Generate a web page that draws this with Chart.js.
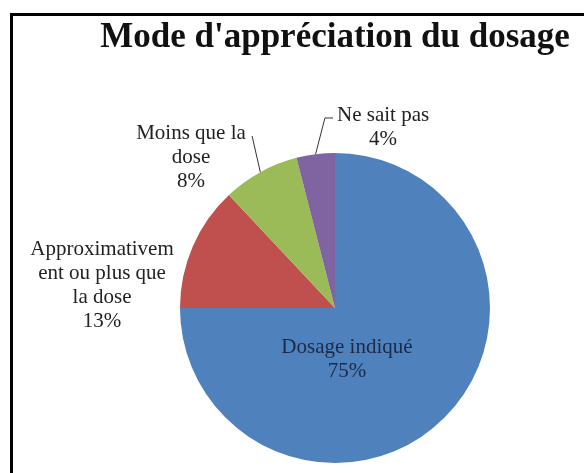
<!DOCTYPE html>
<html>
<head>
<meta charset="utf-8">
<script src="https://cdn.jsdelivr.net/npm/chart.js@4/dist/chart.umd.min.js"></script>
<style>
  html, body { margin: 0; padding: 0; background: #fff; overflow: hidden; }
  #frame { position: absolute; left: 10px; top: 13px; width: 640px; height: 520px;
           border-left: 3px solid #000; border-top: 3px solid #000; }
  #wrap { position: absolute; left: 0; top: 0; width: 584px; height: 473px; }
</style>
</head>
<body>
<div id="frame"></div>
<div id="wrap"><canvas id="chart" width="584" height="473"></canvas></div>
<script>
// Data
const categories = ['Dosage indiqué', 'Approximativement ou plus que la dose', 'Moins que la dose', 'Ne sait pas'];
const values = [75, 13, 8, 4];
// label text as wrapped in the original
const labelLines = [
  ['Dosage indiqué'],
  ['Approximativem', 'ent ou plus que', 'la dose'],
  ['Moins que la', 'dose'],
  ['Ne sait pas']
];
const colors = ['#4F81BD', '#C0504D', '#9BBB59', '#8064A2'];

// label placement, in units of the pie radius from the pie centre
const labelLayout = [
  { dx: 0.077, dy: 0.332, color: '#1c2a48' },
  { dx: -1.503, dy: -0.145, color: '#222' },
  { dx: -0.929, dy: -0.968, color: '#222', leader: [[-0.535, -1.11]] },
  { dx: 0.31, dy: -1.165, color: '#222', leader: [[-0.065, -1.226], [-0.013, -1.226]] }
];

// draws the data labels and leader lines
const sliceLabels = {
  id: 'sliceLabels',
  afterDatasetsDraw(chart) {
    const ctx = chart.ctx;
    const meta = chart.getDatasetMeta(0);
    const lineH = 24;
    ctx.save();
    meta.data.forEach((arc, i) => {
      const { x, y, outerRadius: r, startAngle, endAngle } =
        arc.getProps(['x', 'y', 'outerRadius', 'startAngle', 'endAngle'], true);
      const lay = labelLayout[i];

      if (lay.leader) {
        const mid = (startAngle + endAngle) / 2;
        ctx.beginPath();
        ctx.strokeStyle = '#333';
        ctx.lineWidth = 1;
        ctx.moveTo(x + Math.cos(mid) * r, y + Math.sin(mid) * r);
        lay.leader.forEach(p => ctx.lineTo(x + p[0] * r, y + p[1] * r));
        ctx.stroke();
      }

      const lines = [...labelLines[i], values[i] + '%'];
      const cx = x + lay.dx * r;
      const cy = y + lay.dy * r;
      ctx.font = '21px "Liberation Serif", serif';
      ctx.fillStyle = lay.color;
      ctx.textAlign = 'center';
      ctx.textBaseline = 'middle';
      lines.forEach((t, k) => {
        ctx.fillText(t, cx, cy + (k - (lines.length - 1) / 2) * lineH);
      });
    });
    ctx.restore();
  }
};

const ctx = document.getElementById('chart').getContext('2d');
new Chart(ctx, {
  type: 'pie',
  data: {
    labels: categories,
    datasets: [{
      data: values,
      backgroundColor: colors,
      borderWidth: 0,
      radius: 155,
      hoverOffset: 0
    }]
  },
  options: {
    responsive: false,
    animation: false,
    layout: { padding: { left: 86, right: 0, top: 0, bottom: 10 } },
    plugins: {
      legend: { display: false },
      tooltip: { enabled: false },
      title: {
        display: true,
        text: "Mode d'appréciation du dosage",
        color: '#111',
        font: { family: '"Liberation Serif", serif', size: 35, weight: 'bold', lineHeight: 1.2 },
        padding: { top: 17, bottom: 94 }
      }
    }
  },
  plugins: [sliceLabels]
});
</script>
</body>
</html>
